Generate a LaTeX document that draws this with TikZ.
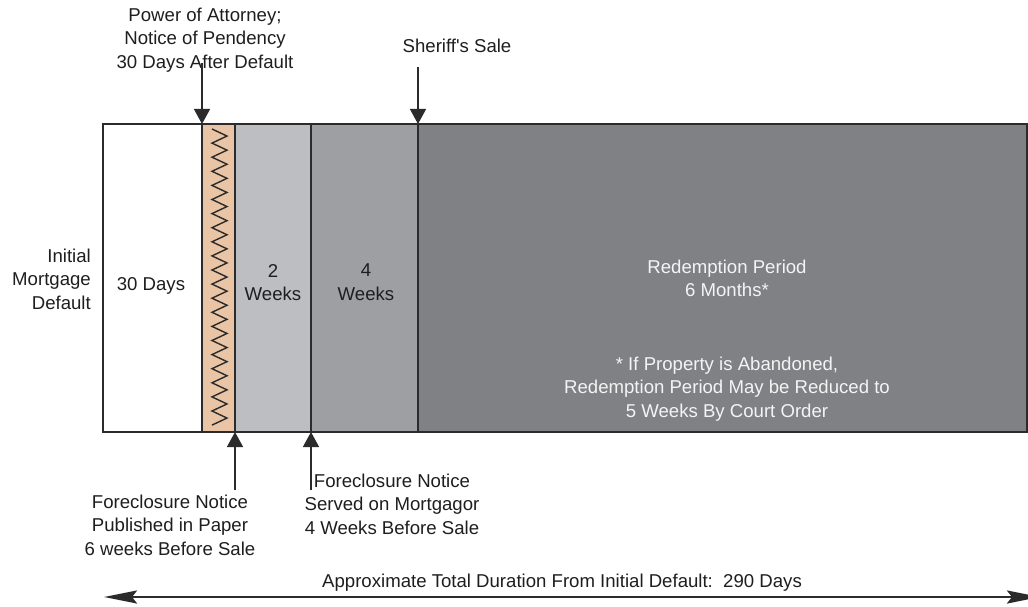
\documentclass[tikz,border=0pt]{standalone}
\usepackage{fontspec}
\setmainfont{Liberation Sans}
\usetikzlibrary{arrows.meta}
\definecolor{cstrip}{HTML}{E9C4A5}
\definecolor{clight}{HTML}{BDBEC2}
\definecolor{cmid}{HTML}{9E9FA3}
\definecolor{cdark}{HTML}{808185}
\definecolor{cline}{HTML}{2B2B2B}
\definecolor{ctext}{HTML}{1E1E1E}
\definecolor{cwtext}{HTML}{F4F4F4}
\begin{document}
\begin{tikzpicture}[x=1pt,y=-1pt,
  seg/.style={draw=cline, line width=1.3pt, minimum height=308pt, inner sep=0pt, outer sep=0pt, anchor=north west},
  lbl/.style={font=\fontsize{18.6}{23.3}\selectfont, text=ctext, inner sep=0pt, align=center},
  wlbl/.style={lbl, text=cwtext},
  marker/.style={draw=cline, line width=1.3pt, -{Triangle[width=16pt,length=15pt]}},
  span/.style={draw=cline, line width=2.6pt, {Stealth[length=33pt,width=13pt,inset=5pt]}-{Stealth[length=33pt,width=13pt,inset=5pt]}}]
\useasboundingbox (0,0) rectangle (1028,607);
% timeline segments
\node[seg, fill=white, minimum width=99pt] (s30) at (103,124) {};
\node[seg, fill=cstrip, minimum width=33pt] (strip) at (202,124) {};
\node[seg, fill=clight, minimum width=76pt] (s2) at (235,124) {};
\node[seg, fill=cmid, minimum width=107pt] (s4) at (311,124) {};
\node[seg, fill=cdark, minimum width=609pt] (sred) at (418,124) {};
% zigzag
\draw[cline, line width=1.4pt, line join=miter] (212,129)
  \foreach \i in {1,...,42}{ -- ({mod(\i,2)*15+212},{129+7.05*\i}) };
% labels
\node[lbl, anchor=north] (poa) at (205,8) {Power of Attorney;\\Notice of Pendency\\30 Days After Default};
\node[lbl, anchor=base] (sheriff) at (457,53) {Sheriff\textquotesingle s Sale};
\node[lbl, anchor=north east, align=right] (init) at (91,249) {Initial\\Mortgage\\Default};
\node[lbl, anchor=base] (d30) at (151,290) {30 Days};
\node[lbl, anchor=north] (w2) at (273,264) {2\\Weeks};
\node[lbl, anchor=north] (w4) at (366,264) {4\\Weeks};
\node[wlbl, anchor=north] (redp) at (727,260) {Redemption Period\\6 Months*};
\node[wlbl, anchor=north] (note) at (727,357) {* If Property is Abandoned,\\Redemption Period May be Reduced to\\5 Weeks By Court Order};
\node[lbl, anchor=north] (fc1) at (170,495) {Foreclosure Notice\\Published in Paper\\6 weeks Before Sale};
\node[lbl, anchor=north] (fc2) at (392,474) {Foreclosure Notice\\Served on Mortgagor\\4 Weeks Before Sale};
\node[lbl, anchor=base west] (total) at (322,587) {Approximate Total Duration From Initial Default:\ \ 290 Days};
% arrow start coordinates
\coordinate (poaend) at (202,63);
\coordinate (sherend) at (418,67);
\coordinate (fc1end) at (235,490);
\coordinate (fc2end) at (311,490);
\coordinate (spanL) at (104,597);
\coordinate (spanR) at (1040,597);
% arrows
\draw[marker] (poaend) -- (strip.north west);
\draw[marker] (sherend) -- (sred.north west);
\draw[marker] (fc1end) -- (strip.south east);
\draw[marker] (fc2end) -- (s2.south east);
\draw[span] (spanL) -- (spanR);
\end{tikzpicture}
\end{document}
